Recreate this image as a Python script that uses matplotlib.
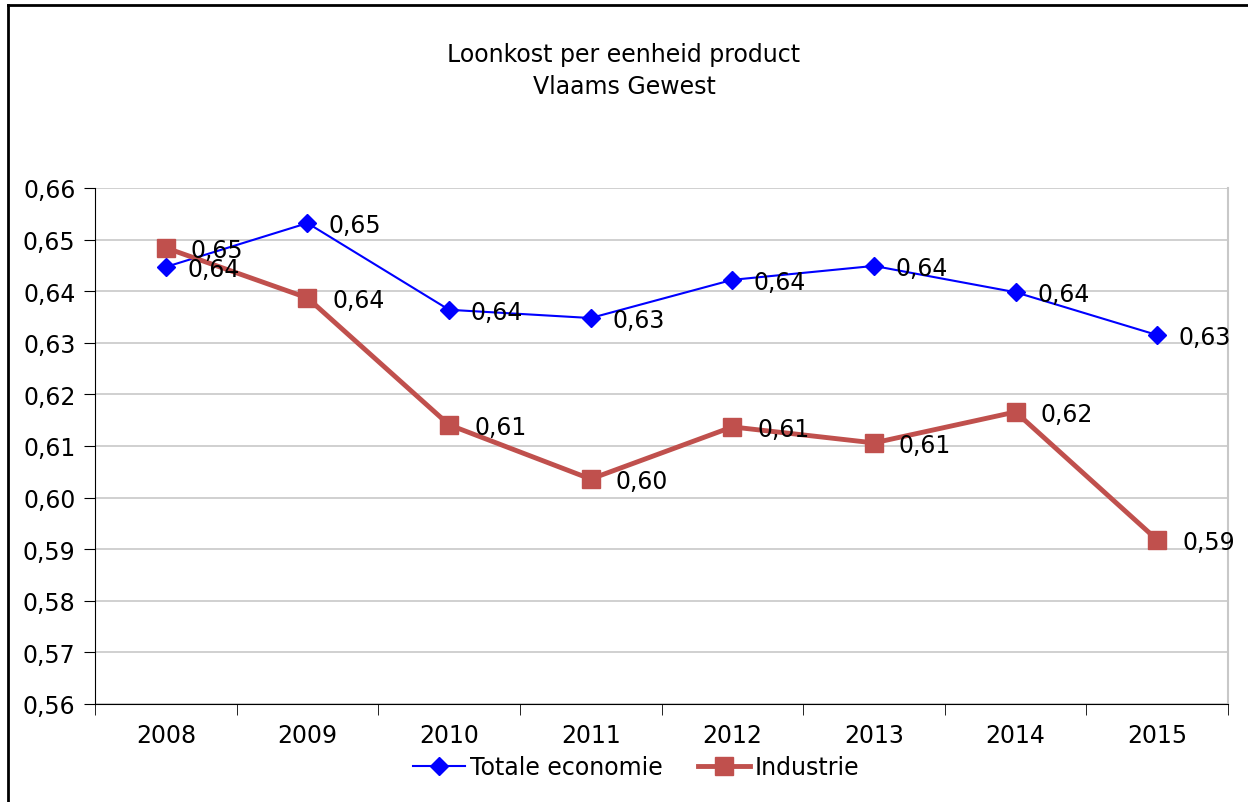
import matplotlib.pyplot as plt
import numpy as np
from matplotlib.lines import Line2D

# Data
jaren = ['2008', '2009', '2010', '2011', '2012', '2013', '2014', '2015']
totale_economie = [0.6447, 0.6532, 0.6364, 0.6348, 0.6422, 0.6449, 0.6398, 0.6315]
industrie = [0.6484, 0.6387, 0.6141, 0.6036, 0.6137, 0.6106, 0.6166, 0.5918]

plt.rcParams['font.family'] = ['DejaVu Sans']

fig = plt.figure(figsize=(12.48, 8.03), dpi=100)
ax = fig.add_axes([95 / 1248, 1 - 705 / 803, (1228 - 95) / 1248, (705 - 189) / 803])

x = np.arange(len(jaren))
ax.plot(x, totale_economie, color='#0000FF', lw=1.5, marker='D', markersize=9,
        label='Totale economie', zorder=3)
ax.plot(x, industrie, color='#C0504D', lw=3.5, marker='s', markersize=13,
        label='Industrie', zorder=3)

# Data labels
for xi, v in zip(x, totale_economie):
    ax.annotate(f'{v:.2f}'.replace('.', ','), (xi, v), xytext=(15.5, -1.5),
                textcoords='offset points', ha='left', va='center', fontsize=17, zorder=4)
for xi, v in zip(x, industrie):
    ax.annotate(f'{v:.2f}'.replace('.', ','), (xi, v), xytext=(18, -1.5),
                textcoords='offset points', ha='left', va='center', fontsize=17, zorder=4)

ax.set_xlim(-0.5, len(jaren) - 0.5)
ax.set_ylim(0.56, 0.66)
yticks = np.arange(0.56, 0.6601, 0.01)
ax.set_yticks(yticks)
ax.set_yticklabels([f'{t:.2f}'.replace('.', ',') for t in yticks])
ax.set_xticks(x)
ax.set_xticklabels(jaren)
ax.set_xticks(np.arange(-0.5, len(jaren)), minor=True)
ax.tick_params(axis='x', which='major', length=0, labelsize=17, pad=14)
ax.tick_params(axis='x', which='minor', length=8, direction='out', color='black')
ax.tick_params(axis='y', length=8, direction='out', labelsize=17, pad=6)

ax.grid(axis='y', color='#C8C8C8', lw=1.2)
ax.set_axisbelow(True)
ax.spines['top'].set_visible(False)
ax.spines['right'].set_color('#C8C8C8')
ax.spines['right'].set_linewidth(1.5)
ax.spines['left'].set_color('black')
ax.spines['bottom'].set_color('black')

fig.text(0.5, 1 - 71 / 803, 'Loonkost per eenheid product\nVlaams Gewest',
         ha='center', va='center', fontsize=17, linespacing=1.45)

ax.legend(loc='center', bbox_to_anchor=(636 / 1248, 1 - 768 / 803), bbox_transform=fig.transFigure,
          ncol=2, frameon=False, fontsize=17, handlelength=2.2, handletextpad=0.2,
          columnspacing=1.5)

# Chart frame: only left and top edges visible
fig.add_artist(Line2D([8 / 1248, 8 / 1248], [0, 1 - 6 / 803], transform=fig.transFigure,
                      color='black', lw=2))
fig.add_artist(Line2D([8 / 1248, 1], [1 - 6 / 803, 1 - 6 / 803], transform=fig.transFigure,
                      color='black', lw=2))

fig.savefig('out.png', dpi=100)
